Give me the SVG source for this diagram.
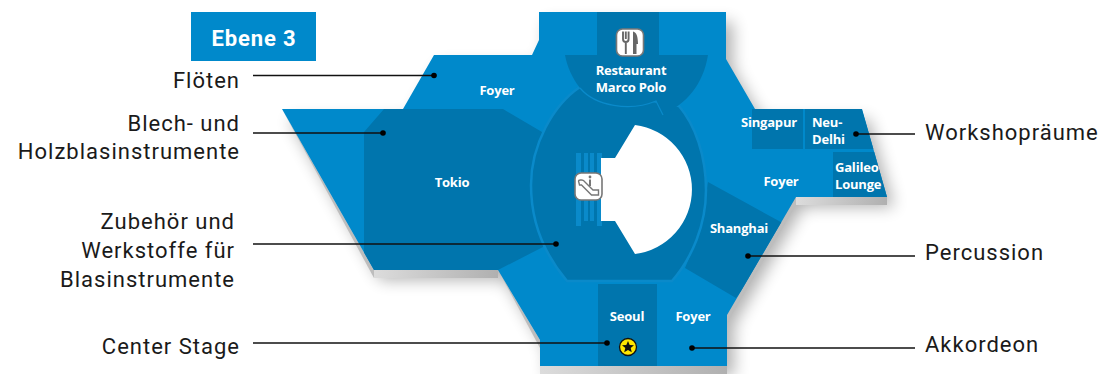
<svg xmlns="http://www.w3.org/2000/svg" width="1102" height="374" viewBox="0 0 1102 374">
<style>
.lbl{font-family:"Roboto","Liberation Sans",sans-serif;font-size:22px;fill:#1a1a1a;letter-spacing:1px}
.end{text-anchor:end}
.rm{font-family:"Open Sans","Noto Sans",sans-serif;font-size:13px;font-weight:700;fill:#fff;text-anchor:middle;letter-spacing:-.2px}
.st{font-family:"Open Sans","Noto Sans",sans-serif;font-size:13px;font-weight:700;fill:#fff;letter-spacing:-.2px}
.dark{fill:#0075ad}
.lit{fill:#0a8aca}
.ln{stroke:#111;stroke-width:1.6;fill:none}
.dt{fill:#000}
.ico{fill:#fff;stroke:#777;stroke-width:1.6}
.bev{fill:url(#bev)}
.edge{fill:#bdbdbd}
</style>
<defs>
<path id="sil" d="M539 12H726V59L755 109H862L887 197H796L727 315V366H540V340L498 270H374L282 109H403L434 55H532L539 40Z"/>
<linearGradient id="bev" x1="0" x2="1" y1="0" y2="0"><stop offset="0" stop-color="#dcdcdc"/><stop offset="1" stop-color="#b0b0b0"/></linearGradient>
<filter id="soft" x="-10%" y="-20%" width="120%" height="140%"><feGaussianBlur stdDeviation="8"/></filter>
<clipPath id="silc"><use href="#sil"/></clipPath>
</defs>
<rect width="1102" height="374" fill="#fff"/>
<g id="plan">
<use href="#sil" transform="translate(7 10)" fill="#000" opacity=".3" filter="url(#soft)"/>
<rect class="bev" x="374" y="270" width="124" height="8"/>
<rect class="bev" x="540" y="366" width="187" height="8"/>
<rect class="bev" x="796" y="197" width="91" height="8"/>
<polygon class="edge" points="282,109 374,270 374,278"/>
<polygon class="edge" points="498,270 540,340 540,348"/>
<polygon class="edge" points="796,197 796,205 727,323 727,315"/>
<use href="#sil" fill="#0089cb"/>
<g clip-path="url(#silc)">
<polygon class="dark" points="364,132 384,109 503,109 542,132 540,184 543,247 498,270 364,270"/>
<polygon class="dark" points="708,182 790,227 736,298 685,268 700,232"/>
<path class="dark" d="M531 185C531 145 553 105 580 87L679 106C695 125 706 155 706 190C706 225 692 258 672 281H567C545 255 531 222 531 185Z" stroke="#0a8aca" stroke-width="2.500"/>
<rect class="dark" x="597" y="12" width="62" height="44"/>
<path class="dark" d="M565 55H708C703 85 687 103 663 115L656 101C628 112 595 108 580 88C572 78 567 66 565 55Z"/>
<path d="M580 88C595 106 630 112 656 101L663 115" fill="none" stroke="#0a8aca" stroke-width="1.200"/>
<rect class="dark" x="752" y="109" width="51" height="40"/>
<polygon class="dark" points="805,109 862,109 874,149 805,149"/>
<rect class="dark" x="833" y="152" width="60" height="45"/>
<rect class="dark" x="598" y="284" width="59" height="82"/>
</g>
</g>
<g id="hall">
<rect class="lit" x="576" y="153" width="5" height="73"/>
<rect class="lit" x="584" y="153" width="4" height="68"/>
<rect class="lit" x="590" y="153" width="4" height="68"/>
<rect class="lit" x="597" y="153" width="5" height="73"/>
<path d="M601 158H615L635 125A65 65 0 0 1 635 254L615 221H601Z" fill="#fff"/>
</g>
<g id="ebene"><rect x="191" y="12" width="125" height="49" fill="#0089cb"/><text x="254" y="46" text-anchor="middle" font-family="Roboto,'Liberation Sans',sans-serif" font-size="22" font-weight="700" fill="#fff" letter-spacing=".9">Ebene 3</text></g>
<g id="icon-restaurant"><rect class="ico" x="616.500" y="29" width="27" height="27" rx="6"/><path d="M623 31.500V39M625.800 31.500V39M628.600 31.500V39M623 39C623 43 628.600 43 628.600 39M625.800 41V54" fill="none" stroke="#666" stroke-width="1.900"/><path d="M633 31.500C636.500 32 638 37 638 44H636.500V54H633Z" fill="#666"/></g>
<g id="icon-escalator"><rect class="ico" x="575" y="173" width="27" height="27" rx="6"/><path d="M578.500 181C578.500 180 582 179.500 583.500 180.500L593 190H598.500V195H591.500L581.500 185H579.500Z" fill="none" stroke="#777" stroke-width="1.400"/><circle cx="590" cy="177" r="1.400" fill="#777"/><path d="M590 179.500V186" stroke="#777" stroke-width="2"/></g>
<g id="icon-star"><circle cx="628" cy="347" r="8.500" fill="#ffe600" stroke="#111" stroke-width="1.300"/><polygon points="628,341 629.700,345 634,345.300 630.700,348 631.800,352.200 628,349.900 624.200,352.200 625.300,348 622,345.300 626.300,345" fill="#111"/></g>
<g id="rooms">
<text class="rm" x="497" y="95">Foyer</text>
<text class="rm" x="452" y="187">Tokio</text>
<text class="rm" x="631" y="75">Restaurant</text>
<text class="rm" x="631" y="92">Marco Polo</text>
<text class="st" x="741" y="127">Singapur</text>
<text class="st" x="812" y="127">Neu-</text>
<text class="st" x="812" y="144">Delhi</text>
<text class="st" x="835" y="172">Galileo</text>
<text class="st" x="835" y="189">Lounge</text>
<text class="rm" x="781" y="186">Foyer</text>
<text class="rm" x="739" y="233">Shanghai</text>
<text class="rm" x="627" y="321">Seoul</text>
<text class="rm" x="693" y="321">Foyer</text>
</g>
<g id="connectors">
<path class="ln" d="M253 75.500H434"/><circle class="dt" cx="434" cy="75.500" r="2.800"/>
<path class="ln" d="M253 133H383"/><circle class="dt" cx="383" cy="133" r="2.800"/>
<path class="ln" d="M253 244H556"/><circle class="dt" cx="556" cy="244" r="2.800"/>
<path class="ln" d="M253 343H607"/><circle class="dt" cx="607" cy="343" r="2.800"/>
<path class="ln" d="M915 134H856"/><circle class="dt" cx="856" cy="134" r="2.800"/>
<path class="ln" d="M915 256H748"/><circle class="dt" cx="748" cy="256" r="2.800"/>
<path class="ln" d="M915 348H692"/><circle class="dt" cx="692" cy="348" r="2.800"/>
</g>
<g id="labels">
<text class="lbl end" x="240" y="88">Flöten</text>
<text class="lbl end" x="240" y="131">Blech- und</text>
<text class="lbl end" x="240" y="159">Holzblasinstrumente</text>
<text class="lbl end" x="235" y="229">Zubehör und</text>
<text class="lbl end" x="235" y="258">Werkstoffe für</text>
<text class="lbl end" x="235" y="287">Blasinstrumente</text>
<text class="lbl end" x="240" y="354">Center Stage</text>
<text class="lbl" x="925" y="140">Workshopräume</text>
<text class="lbl" x="925" y="260">Percussion</text>
<text class="lbl" x="925" y="352">Akkordeon</text>
</g>
</svg>
